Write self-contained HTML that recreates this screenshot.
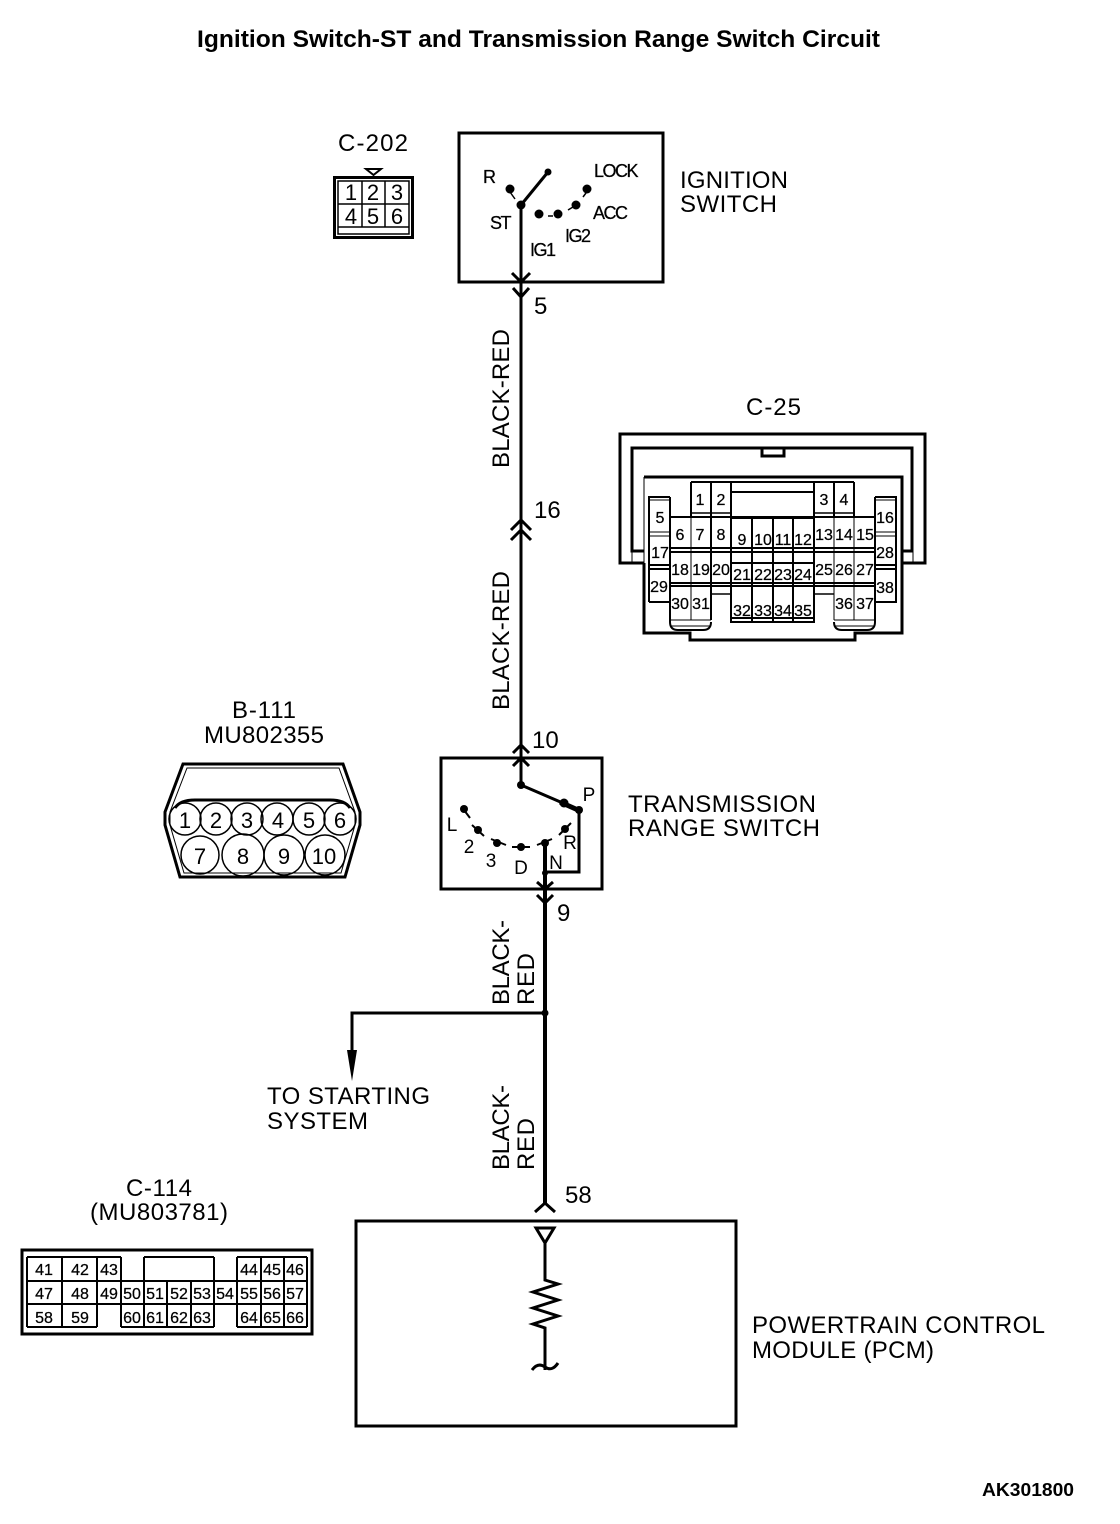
<!DOCTYPE html>
<html lang="en"><head><meta charset="utf-8"><title>Ignition Switch-ST and Transmission Range Switch Circuit</title>
<style>
html,body{margin:0;padding:0;background:#fff}
svg{display:block}
text{font-family:"Liberation Sans",sans-serif;fill:#000}
.l{font-size:24px}
.s{font-size:16px;text-anchor:middle;stroke:#000;stroke-width:.25px}
.m{font-size:22px;text-anchor:middle}
.c{font-size:19px;text-anchor:middle}
.t{font-size:18px;letter-spacing:-1.500px;stroke:#000;stroke-width:.25px}
g.w *{fill:none;stroke:#000}
</style></head><body>
<svg width="1120" height="1524" viewBox="0 0 1120 1524" xmlns="http://www.w3.org/2000/svg">
<rect width="1120" height="1524" fill="#fff"/>
<text x="197" y="47" font-size="24" font-weight="bold" textLength="683" lengthAdjust="spacingAndGlyphs">Ignition Switch-ST and Transmission Range Switch Circuit</text>
<text x="982" y="1496" font-size="18" font-weight="bold" textLength="92" lengthAdjust="spacingAndGlyphs">AK301800</text>

<!-- C-202 -->
<text x="338" y="151" class="l" textLength="70">C-202</text>
<g class="w">
<path d="M366 169H381L373.500 175Z" stroke-width="2"/>
<rect x="334.500" y="177.500" width="78" height="60" stroke-width="3"/>
<path d="M338 181H409V234H338ZM338 204H409M338 227H409M362 181V227M385 181V227" stroke-width="1.500"/>
</g>
<text x="351" y="200" class="m">1</text><text x="373" y="200" class="m">2</text><text x="397" y="200" class="m">3</text>
<text x="351" y="224" class="m">4</text><text x="373" y="224" class="m">5</text><text x="397" y="224" class="m">6</text>

<!-- Ignition switch -->
<g class="w">
<rect x="459" y="133" width="204" height="149" stroke-width="3"/>
<path d="M521 205V296" stroke-width="3"/>
<path d="M521 205L548 172" stroke-width="3"/>
<path d="M512 273L521 282L530 273M513 288L521 297L529 288" stroke-width="3"/>
<path d="M510 192L515 199M548 216H553M568 210L573 207M583 197L586 193" stroke-width="1.500"/>
</g>
<circle cx="521" cy="205" r="4.500"/><circle cx="548" cy="172" r="3.500"/>
<circle cx="510" cy="189" r="4.500"/><circle cx="539" cy="214" r="4.500"/><circle cx="558" cy="214" r="4.500"/><circle cx="576" cy="205" r="4.500"/><circle cx="587" cy="189" r="4.500"/>
<text x="483" y="183" class="t">R</text><text x="594" y="177" class="t">LOCK</text><text x="490" y="229" class="t">ST</text><text x="593" y="219" class="t">ACC</text><text x="565" y="242" class="t">IG2</text><text x="530" y="256" class="t">IG1</text>
<text x="680" y="188" class="l" textLength="108">IGNITION</text>
<text x="680" y="212" class="l" textLength="97">SWITCH</text>

<!-- Main wires -->
<g class="w">
<path d="M521 282V786" stroke-width="3"/>
<path d="M545 843V1205" stroke-width="4"/>
<path d="M511 530L521 520L531 530M511 540L521 530L531 540" stroke-width="3"/>
<path d="M513 753L521 745L529 753M513 766L521 758L529 766" stroke-width="3"/>
<path d="M537 882L545 889L553 882M537 895L545 903L553 895" stroke-width="3"/>
<path d="M535 1212L545 1203L555 1212" stroke-width="3"/>
<path d="M545 1013H352V1055" stroke-width="3"/>
</g>
<circle cx="545" cy="1013" r="3.500"/>
<path d="M347 1050H357L352 1081Z"/>
<text x="534" y="314" class="l">5</text>
<text x="534" y="518" class="l">16</text>
<text x="532" y="748" class="l">10</text>
<text x="557" y="921" class="l">9</text>
<text x="565" y="1203" class="l">58</text>
<text class="l" transform="translate(509 468) rotate(-90)" textLength="139">BLACK-RED</text>
<text class="l" transform="translate(509 710) rotate(-90)" textLength="139">BLACK-RED</text>
<text class="l" transform="translate(509 1005) rotate(-90)" textLength="85">BLACK-</text>
<text class="l" transform="translate(534 1005) rotate(-90)" textLength="52">RED</text>
<text class="l" transform="translate(509 1170) rotate(-90)" textLength="85">BLACK-</text>
<text class="l" transform="translate(534 1170) rotate(-90)" textLength="52">RED</text>

<!-- C-25 -->
<text x="746" y="415" class="l" textLength="55">C-25</text>
<g class="w">
<path d="M644 563H620V434H925V563H902" stroke-width="3"/>
<path d="M644 551H632V448H912V551H902" stroke-width="3"/>
<path d="M762 448V456H784V448" stroke-width="3"/>
<path d="M644 563V633H690V640H855V633H902V563" stroke-width="3"/>
<path d="M644 477H902V563" stroke-width="3"/>
<path d="M644 477V563M632 551V563M913 551V563" stroke-width="1"/>
<path d="M670 517H875M670 548H875M670 552H875M670 583H875M670 586H875" stroke-width="2"/>
<path d="M691 482H854M691 482V517M711 482V620M731 482V622H814V482M834 482V517M854 482V517M731 492H814" stroke-width="2"/>
<path d="M691 513H731M814 513H854" stroke-width="1.500"/>
<path d="M752 518V622M773 518V622M793 518V622M731 518H814M731 563H814M731 618H814" stroke-width="2"/>
<path d="M691 517V620M834 517V620M854 517V620" stroke-width="1"/>
<path d="M711 594H731M814 594H834" stroke-width="1.500"/>
<path d="M670 497V622Q670 630 678 630H703Q711 630 711 622M834 622Q834 630 842 630H867Q875 630 875 622V497" stroke-width="2"/>
<path d="M670 620H711M834 620H875M670 626H711M834 626H875" stroke-width="1"/>
<path d="M649 602V497H670M875 497H896V602H875M649 602H670" stroke-width="2"/>
<path d="M649 500H670M875 500H896M649 532H670M875 532H896M649 536H670M875 536H896" stroke-width="1"/>
<path d="M649 565H670M875 565H896M649 569H670M875 569H896" stroke-width="2"/>
</g>
<text x="700" y="505" class="s">1</text><text x="721" y="505" class="s">2</text><text x="824" y="505" class="s">3</text><text x="844" y="505" class="s">4</text>
<text x="660" y="523" class="s">5</text><text x="680" y="540" class="s">6</text><text x="700" y="540" class="s">7</text><text x="721" y="540" class="s">8</text>
<text x="742" y="545" class="s">9</text><text x="763" y="545" class="s">10</text><text x="783" y="545" class="s">11</text><text x="803" y="545" class="s">12</text>
<text x="824" y="540" class="s">13</text><text x="844" y="540" class="s">14</text><text x="865" y="540" class="s">15</text><text x="885" y="523" class="s">16</text>
<text x="660" y="558" class="s">17</text><text x="680" y="575" class="s">18</text><text x="701" y="575" class="s">19</text><text x="721" y="575" class="s">20</text>
<text x="742" y="580" class="s">21</text><text x="763" y="580" class="s">22</text><text x="783" y="580" class="s">23</text><text x="803" y="580" class="s">24</text>
<text x="824" y="575" class="s">25</text><text x="844" y="575" class="s">26</text><text x="865" y="575" class="s">27</text><text x="885" y="558" class="s">28</text>
<text x="659" y="592" class="s">29</text><text x="680" y="609" class="s">30</text><text x="701" y="609" class="s">31</text>
<text x="742" y="616" class="s">32</text><text x="763" y="616" class="s">33</text><text x="783" y="616" class="s">34</text><text x="803" y="616" class="s">35</text>
<text x="844" y="609" class="s">36</text><text x="865" y="609" class="s">37</text><text x="885" y="593" class="s">38</text>

<!-- B-111 -->
<text x="232" y="718" class="l" textLength="64">B-111</text>
<text x="204" y="743" class="l" textLength="120">MU802355</text>
<g class="w">
<path d="M183 764H343L360 812V825L345 877H180L165 825V812Z" stroke-width="3"/>
<path d="M187 768H339L355 812V825L341 873H184L170 825V812Z" stroke-width="1"/>
<path d="M175 808Q180 800 195 800H330Q345 800 350 808" stroke-width="3"/>
<circle cx="185" cy="819" r="16" stroke-width="1.500"/><circle cx="216" cy="819" r="16" stroke-width="1.500"/><circle cx="247" cy="819" r="16" stroke-width="1.500"/><circle cx="277" cy="819" r="16" stroke-width="1.500"/><circle cx="309" cy="819" r="16" stroke-width="1.500"/><circle cx="340" cy="819" r="16" stroke-width="1.500"/>
<circle cx="200" cy="855" r="19" stroke-width="1.500"/><circle cx="243" cy="855" r="21" stroke-width="1.500"/><circle cx="284" cy="855" r="20" stroke-width="1.500"/><circle cx="325" cy="855" r="20" stroke-width="1.500"/>
</g>
<text x="185" y="828" class="m">1</text><text x="216" y="828" class="m">2</text><text x="247" y="828" class="m">3</text><text x="278" y="828" class="m">4</text><text x="309" y="828" class="m">5</text><text x="340" y="828" class="m">6</text>
<text x="200" y="864" class="m">7</text><text x="243" y="864" class="m">8</text><text x="284" y="864" class="m">9</text><text x="324" y="864" class="m">10</text>

<!-- Transmission range switch -->
<g class="w">
<rect x="441" y="758" width="161" height="131" stroke-width="3"/>
<path d="M521 785L579 810V872H545" stroke-width="3"/>
<path d="M560 802L578 810" stroke-width="5"/>
<path d="M464 810L470 818M472 825L484 836M491 839L506 845M512 847H530M537 845L552 839M559 835L571 823" stroke-width="2"/>
</g>
<circle cx="521" cy="785" r="4"/><circle cx="564" cy="803" r="4.500"/><circle cx="579" cy="810" r="4"/>
<circle cx="464" cy="809" r="4"/><circle cx="478" cy="830" r="4"/><circle cx="497" cy="843" r="4"/><circle cx="521" cy="847" r="4"/><circle cx="545" cy="843" r="4"/><circle cx="565" cy="829" r="4"/><circle cx="545" cy="873" r="3"/>
<text x="589" y="801" class="c">P</text><text x="452" y="831" class="c">L</text><text x="469" y="853" class="c">2</text><text x="491" y="867" class="c">3</text><text x="521" y="874" class="c">D</text><text x="556" y="869" class="c">N</text><text x="570" y="849" class="c">R</text>
<text x="628" y="812" class="l" textLength="188">TRANSMISSION</text>
<text x="628" y="836" class="l" textLength="192">RANGE SWITCH</text>
<text x="267" y="1104" class="l" textLength="163">TO STARTING</text>
<text x="267" y="1129" class="l" textLength="101">SYSTEM</text>

<!-- C-114 -->
<text x="126" y="1196" class="l" textLength="66">C-114</text>
<text x="90" y="1220" class="l" textLength="138">(MU803781)</text>
<g class="w">
<rect x="22" y="1250" width="290" height="84" stroke-width="3"/>
<path d="M27 1257H121M144 1257H214M237 1257H307M27 1281H307M27 1304H307M27 1327H97M121 1327H214M237 1327H307" stroke-width="2"/>
<path d="M27 1257V1327M62 1257V1327M97 1257V1327M121 1257V1327M144 1257V1327M214 1257V1327M237 1257V1327M261 1257V1327M284 1257V1327M307 1257V1327M167 1281V1327M191 1281V1327" stroke-width="2"/>
</g>
<text x="44" y="1275" class="s">41</text><text x="80" y="1275" class="s">42</text><text x="109" y="1275" class="s">43</text><text x="249" y="1275" class="s">44</text><text x="272" y="1275" class="s">45</text><text x="295" y="1275" class="s">46</text>
<text x="44" y="1299" class="s">47</text><text x="80" y="1299" class="s">48</text><text x="109" y="1299" class="s">49</text><text x="132" y="1299" class="s">50</text><text x="155" y="1299" class="s">51</text><text x="179" y="1299" class="s">52</text><text x="202" y="1299" class="s">53</text><text x="225" y="1299" class="s">54</text><text x="249" y="1299" class="s">55</text><text x="272" y="1299" class="s">56</text><text x="295" y="1299" class="s">57</text>
<text x="44" y="1323" class="s">58</text><text x="80" y="1323" class="s">59</text><text x="132" y="1323" class="s">60</text><text x="155" y="1323" class="s">61</text><text x="179" y="1323" class="s">62</text><text x="202" y="1323" class="s">63</text><text x="249" y="1323" class="s">64</text><text x="272" y="1323" class="s">65</text><text x="295" y="1323" class="s">66</text>

<!-- PCM -->
<g class="w">
<rect x="356" y="1221" width="380" height="205" stroke-width="3"/>
<path d="M536 1228H554L545 1243Z" stroke-width="3"/>
<path d="M545 1243V1280L558 1284L533 1292L558 1300L533 1308L558 1316L533 1324L545 1328V1370" stroke-width="3"/>
<path d="M532 1370Q538 1362 545 1367Q552 1372 558 1363" stroke-width="3"/>
</g>
<text x="752" y="1333" class="l" textLength="293">POWERTRAIN CONTROL</text>
<text x="752" y="1358" class="l" textLength="182">MODULE (PCM)</text>
</svg>
</body></html>
